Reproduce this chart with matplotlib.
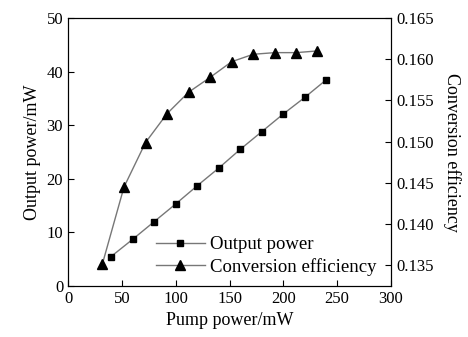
import numpy as np
import matplotlib
matplotlib.use("Agg")
from matplotlib import pyplot as plt

plt.rcParams['font.family'] = ['Liberation Serif', 'DejaVu Serif']
plt.rcParams['font.size'] = 12

# output power data
pump_out = [40, 60, 80, 100, 120, 140, 160, 180, 200, 220, 240]
out_power = [5.5, 8.7, 12.0, 15.3, 18.7, 22.0, 25.5, 28.8, 32.1, 35.2, 38.5]

# conversion efficiency data
pump_eff = [32, 52, 72, 92, 112, 132, 152, 172, 192, 212, 231]
efficiency = [0.1352, 0.1445, 0.1499, 0.1534, 0.1560, 0.1578, 0.1597, 0.1606, 0.1608, 0.1608, 0.1610]

fig = plt.figure(figsize=(4.68, 3.37), dpi=100)
ax = fig.add_axes([0.1453, 0.1513, 0.6902, 0.7953])
ax2 = ax.twinx()

l1, = ax.plot(pump_out, out_power, color='#777777', lw=1.0, marker='s',
              ms=5, mfc='black', mec='black', label='Output power')
l2, = ax2.plot(pump_eff, efficiency, color='#777777', lw=1.0, marker='^',
               ms=6.5, mfc='black', mec='black', label='Conversion efficiency')

ax.set_xlim(0, 300)
ax.set_ylim(0, 50)
ax2.set_ylim(0.1325, 0.165)
ax.set_xticks([0, 50, 100, 150, 200, 250, 300])
ax.set_yticks([0, 10, 20, 30, 40, 50])
ax2.set_yticks([0.135, 0.140, 0.145, 0.150, 0.155, 0.160, 0.165])
ax2.set_yticklabels(['0.135', '0.140', '0.145', '0.150', '0.155', '0.160', '0.165'])

ax.tick_params(direction='in', length=4, top=False)
ax2.tick_params(direction='in', length=4)

ax.set_xlabel('Pump power/mW', fontsize=13)
ax.set_ylabel('Output power/mW', fontsize=13)
ax2.set_ylabel('Conversion efficiency', fontsize=13, rotation=270, labelpad=20)

ax.legend([l1, l2], ['Output power', 'Conversion efficiency'], loc='lower left',
          bbox_to_anchor=(0.22, -0.025), frameon=False, handlelength=2.6,
          handletextpad=0.3, labelspacing=0.25, fontsize=13.5)

fig.savefig('out.png', dpi=100)
